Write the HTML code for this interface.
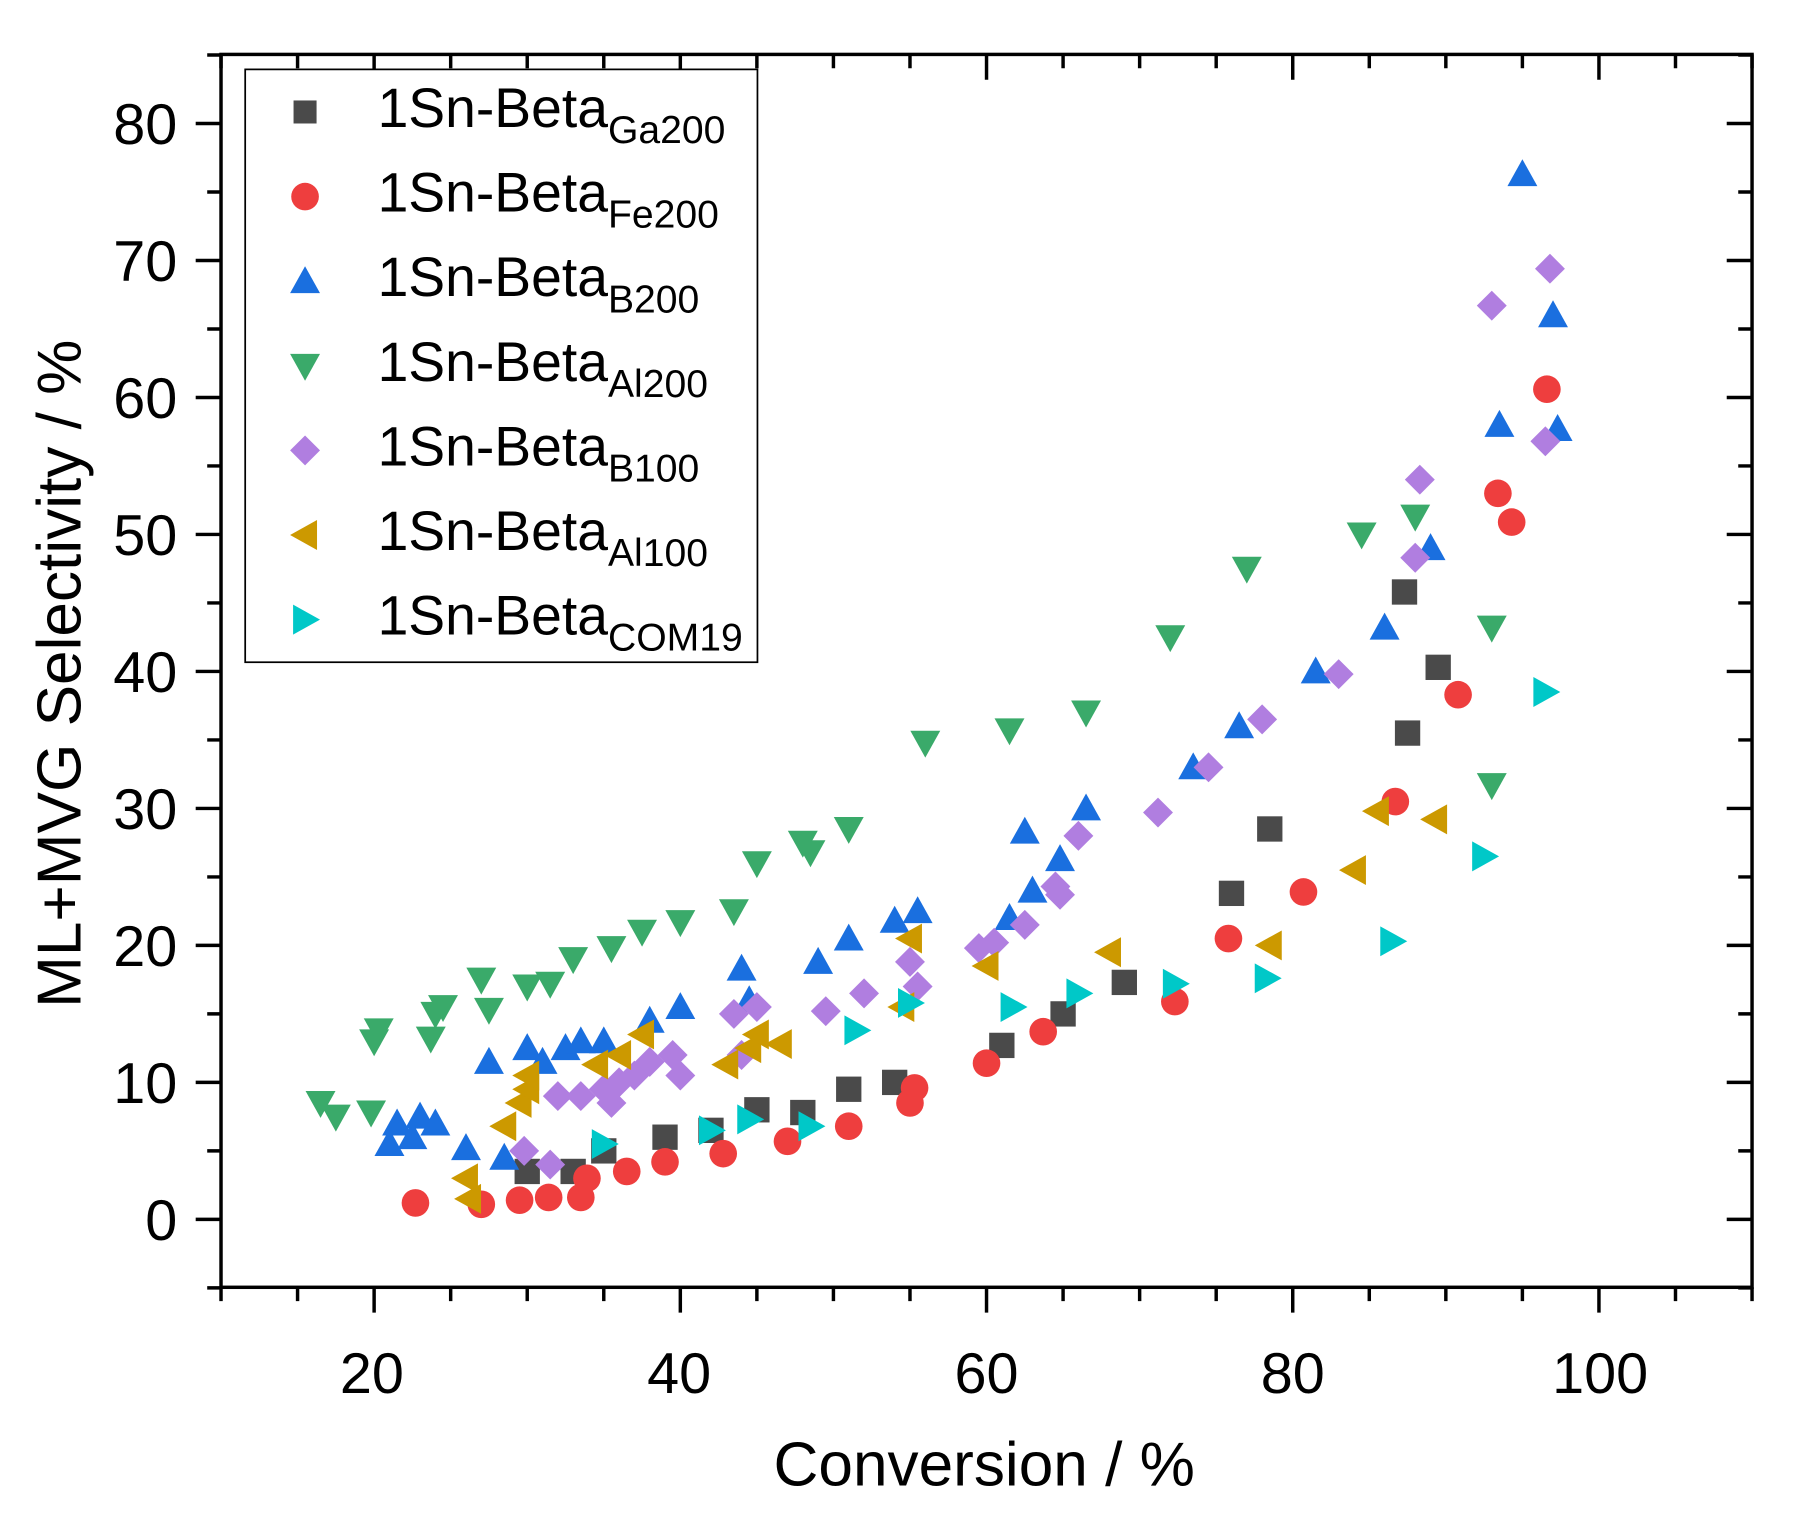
<!DOCTYPE html>
<html><head><meta charset="utf-8"><style>
html,body{margin:0;padding:0;background:#fff;}
svg{display:block;font-family:"Liberation Sans",Arial,sans-serif;}
</style></head><body>
<svg id="s" width="1805" height="1519" viewBox="0 0 1568 1319" xmlns="http://www.w3.org/2000/svg">
<rect width="1568" height="1319" fill="#fff"/>
<g id="ticks" stroke="#000" stroke-width="3" fill="none"></g>
<rect x="192" y="47" width="1330" height="1071" fill="none" stroke="#000" stroke-width="3"/>
<g id="pts"></g>
<g font-size="50" fill="#000" text-anchor="end">
<text x="154" y="1077">0</text><text x="154" y="958">10</text><text x="154" y="839">20</text>
<text x="154" y="720">30</text><text x="154" y="601">40</text><text x="154" y="482">50</text>
<text x="154" y="363">60</text><text x="154" y="244">70</text><text x="154" y="125">80</text>
</g>
<g font-size="50" fill="#000" text-anchor="middle">
<text x="323" y="1210">20</text><text x="590" y="1210">40</text><text x="857" y="1210">60</text>
<text x="1123" y="1210">80</text><text x="1390" y="1210">100</text>
</g>
<text x="855" y="1290" font-size="54" text-anchor="middle">Conversion / %</text>
<text transform="translate(70,585) rotate(-90)" font-size="54" text-anchor="middle">ML+MVG Selectivity / %</text>
<rect x="213" y="60" width="445" height="515" fill="#fff" stroke="#000" stroke-width="1.5"/>
<g id="leg" font-size="48" fill="#000"></g>
</svg>
<script>
var NS="http://www.w3.org/2000/svg";
function X(x){return 192+(x-10)*13.3;}
function Y(y){return 1059-y*11.9;}
var T=document.getElementById('ticks'),d="";
for(var v=10;v<=110;v+=5){var px=X(v),maj=(v%20==0);d+="M"+px+" 1118V"+(1118+(maj?22:12));d+="M"+px+" 47V"+(47+(maj?22:12));}
for(var v=-5;v<=85;v+=5){var py=Y(v),maj=(v%10==0);d+="M192 "+py+"H"+(192-(maj?22:12));d+="M1522 "+py+"H"+(1522-(maj?22:12));}
var p=document.createElementNS(NS,'path');p.setAttribute('d',d);T.appendChild(p);
function mk(t,cx,cy,c,r){var e;r=r||11;
 if(t=='sq'){e=document.createElementNS(NS,'rect');e.setAttribute('x',cx-r);e.setAttribute('y',cy-r);e.setAttribute('width',2*r);e.setAttribute('height',2*r);}
 else if(t=='ci'){e=document.createElementNS(NS,'circle');e.setAttribute('cx',cx);e.setAttribute('cy',cy);e.setAttribute('r',r+1);}
 else{var q;r=r+2;
  if(t=='up')q=[[cx,cy-r],[cx+r,cy+r*0.8],[cx-r,cy+r*0.8]];
  if(t=='dn')q=[[cx,cy+r],[cx+r,cy-r*0.8],[cx-r,cy-r*0.8]];
  if(t=='lf')q=[[cx-r,cy],[cx+r*0.8,cy-r],[cx+r*0.8,cy+r]];
  if(t=='rt')q=[[cx+r,cy],[cx-r*0.8,cy-r],[cx-r*0.8,cy+r]];
  if(t=='di')q=[[cx,cy-r],[cx+r,cy],[cx,cy+r],[cx-r,cy]];
  e=document.createElementNS(NS,'polygon');e.setAttribute('points',q.map(function(a){return a.join(',')}).join(' '));}
 e.setAttribute('fill',c);return e;}
var S=[
['sq','#4a4a4a',[[30,3.5],[33,3.5],[35,5],[39,6],[42,6.5],[45,8],[48,7.8],[51,9.5],[54,10],[61,12.7],[65,15],[69,17.3],[76,23.8],[78.5,28.5],[87.5,35.5],[89.5,40.3],[87.3,45.8]]],
['ci','#ee3e3e',[[22.7,1.2],[27,1.1],[29.5,1.4],[31.4,1.6],[33.5,1.6],[33.9,3],[36.5,3.5],[39,4.2],[42.8,4.8],[47,5.7],[51,6.8],[55,8.5],[55.3,9.6],[60,11.4],[63.7,13.7],[72.3,15.9],[75.8,20.5],[80.7,23.9],[86.7,30.5],[90.8,38.3],[93.4,53],[94.3,50.9],[96.6,60.6]]],
['up','#1a6fdf',[[21,5.5],[21.5,7],[22.5,6],[23,7.5],[24,7],[26,5.2],[27.5,11.5],[28.5,4.5],[30,12.5],[31,11.5],[32.5,12.5],[33.5,13],[35,13],[38,14.5],[40,15.5],[44,18.3],[44.5,16],[49,18.8],[51,20.5],[54,21.8],[55.5,22.5],[61.5,22],[62.5,28.3],[63,24],[64.8,26.3],[66.5,30],[73.5,33],[76.5,36],[81.5,40],[86,43.2],[89,49],[93.5,58],[95,76.3],[97,66],[97.3,57.7]]],
['dn','#3aaa6a',[[16.5,8.5],[17.5,7.5],[19.8,7.8],[20,13],[20.3,13.8],[23.7,13.2],[24,15],[24.5,15.5],[27,17.5],[27.5,15.3],[30,17],[31.5,17.2],[33,19],[35.5,19.8],[37.5,21],[40,21.7],[43.5,22.5],[45,26],[48,27.5],[48.5,26.8],[51,28.5],[56,34.8],[61.5,35.7],[66.5,37],[72,42.5],[77,47.5],[84.5,50],[88,51.3],[93,43.2],[93,31.7]]],
['di','#b07ee0',[[29.8,5],[31.5,4],[32,9],[33.5,9],[35,9.5],[35.5,8.5],[36,10],[37,10.5],[38,11.5],[39.5,12],[40,10.5],[43.5,15],[44,12],[45,15.5],[49.5,15.2],[52,16.5],[55,18.8],[55.5,17],[59.5,19.8],[60.5,20.2],[62.5,21.5],[64.5,24.3],[64.8,23.7],[66,28],[71.2,29.7],[74.5,33],[78,36.5],[83,39.8],[88,48.3],[88.3,54],[93,66.7],[96.5,56.8],[96.8,69.4]]],
['lf','#cc9900',[[26,3],[26.2,1.5],[28.5,6.8],[29.5,8.5],[30,9.5],[30,10.5],[34.5,11.3],[36,12],[37.5,13.5],[43,11.3],[44.5,12.5],[45,13.5],[46.5,12.8],[54.5,15.5],[55,20.5],[60,18.5],[68,19.5],[78.5,20],[84,25.5],[85.5,29.8],[89.3,29.2]]],
['rt','#00c8c8',[[35,5.5],[42,6.5],[44.5,7.3],[48.5,6.8],[51.5,13.8],[55,15.8],[61.7,15.5],[66,16.5],[72.3,17.2],[78.3,17.6],[86.5,20.3],[92.5,26.5],[96.5,38.5]]]
];
var P=document.getElementById('pts'),L=document.getElementById('leg');
var subs=['Ga200','Fe200','B200','Al200','B100','Al100','COM19'];
S.forEach(function(s,i){s[2].forEach(function(a){P.appendChild(mk(s[0],X(a[0]),Y(a[1]),s[1]));});
 var ry=97+i*73.5;L.appendChild(mk(s[0],265,ry,s[1],s[0]=='sq'?10:11));
 var t=document.createElementNS(NS,'text');t.setAttribute('x',328);t.setAttribute('y',ry+13);
 t.textContent='1Sn-Beta';var sp=document.createElementNS(NS,'tspan');sp.setAttribute('font-size','34');sp.setAttribute('dy','14');sp.textContent=subs[i];t.appendChild(sp);L.appendChild(t);});
</script>
</body></html>
